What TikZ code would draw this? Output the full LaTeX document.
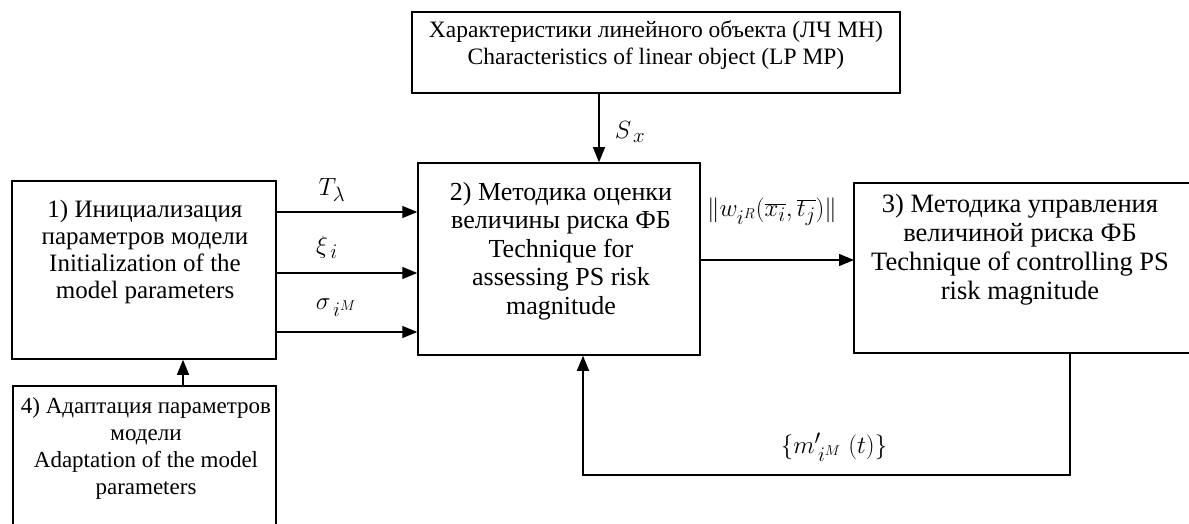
\documentclass[tikz,border=0pt]{standalone}
\usepackage{fontspec}
\setmainfont{Liberation Serif}
\usetikzlibrary{arrows.meta}
\begin{document}
\begin{tikzpicture}[x=1pt,y=-1pt,
  box/.style={draw, line width=1.5pt, inner sep=0pt},
  frame/.style={line width=1.5pt},
  txt/.style={align=center, inner sep=0pt, font=\fontsize{25}{28}\selectfont},
  arr/.style={line width=1.3pt, -{Triangle[length=15pt,width=12pt]}},
  lbl/.style={inner sep=0pt, font=\fontsize{29}{32}\selectfont}]
\useasboundingbox (0,0) rectangle (1189,524);
% boxes
\node[box, minimum width=488pt, minimum height=81pt] (top) at (656,52.5) {};
\node[txt, font=\fontsize{23.5}{27}\selectfont] (toptxt) at (656,45) {Характеристики линейного объекта (ЛЧ МН)\\Characteristics of linear object (LP MP)};
\node[box, minimum width=264pt, minimum height=178pt] (b1) at (144,270) {};
\node[txt, font=\fontsize{25}{27}\selectfont] (b1txt) at (145,252) {1) Инициализация\\параметров модели\\Initialization of the\\model parameters};
\node[box, minimum width=282pt, minimum height=192pt] (b2) at (559,259) {};
\node[txt, font=\fontsize{26}{28.5}\selectfont] (b2txt) at (561,251) {2) Методика оценки\\величины риска ФБ\\Technique for\\assessing PS risk\\magnitude};
\draw[frame] (1189,183) -- (854,183) -- (854,353) -- (1189,353);
\coordinate (b3w) at (854,260);
\coordinate (b3s) at (1070,353);
\node[txt, font=\fontsize{26.5}{29}\selectfont] (b3txt) at (1020,250) {3) Методика управления\\величиной риска ФБ\\Technique of controlling PS\\risk magnitude};
\draw[frame] (13,524) -- (13,386) -- (276,386) -- (276,524);
\coordinate (b4n) at (183,386);
\node[txt, font=\fontsize{23}{27}\selectfont] (b4txt) at (146,448) {4) Адаптация параметров\\модели\\Adaptation of the model\\parameters};
% connectors
\coordinate (sx) at (599,0);
\draw[arr] (top.south -| sx) -- (b2.north -| sx);
\draw[arr] (b1.east |- 0,212) -- (b2.west |- 0,212);
\draw[arr] (b1.east |- 0,273) -- (b2.west |- 0,273);
\draw[arr] (b1.east |- 0,332) -- (b2.west |- 0,332);
\draw[arr] (b2.east |- b3w) -- (b3w);
\coordinate (fb) at (583,475);
\draw[arr] (b3s) |- (fb) -- (fb |- b2.south);
\draw[arr] (b4n) -- (b4n |- b1.south);
% labels
\node[lbl] (lS) at (630,132) {$S_{\,x}$};
\node[lbl] (lT) at (332,190) {$T_{\lambda}$};
\node[lbl] (lX) at (327,247) {$\xi_{\,i}$};
\node[lbl] (lSig) at (336,308) {$\sigma_{\,i^{M}}$};
\node[lbl] (lW) at (772,212) {$\Big\| w_{i^{R}}(\overline{x_i},\overline{t_j})\Big\|$};
\node[lbl] (lM) at (834,447) {$\Big\{ m'_{\,i^{M}}\ (t)\Big\}$};
\end{tikzpicture}
\end{document}
